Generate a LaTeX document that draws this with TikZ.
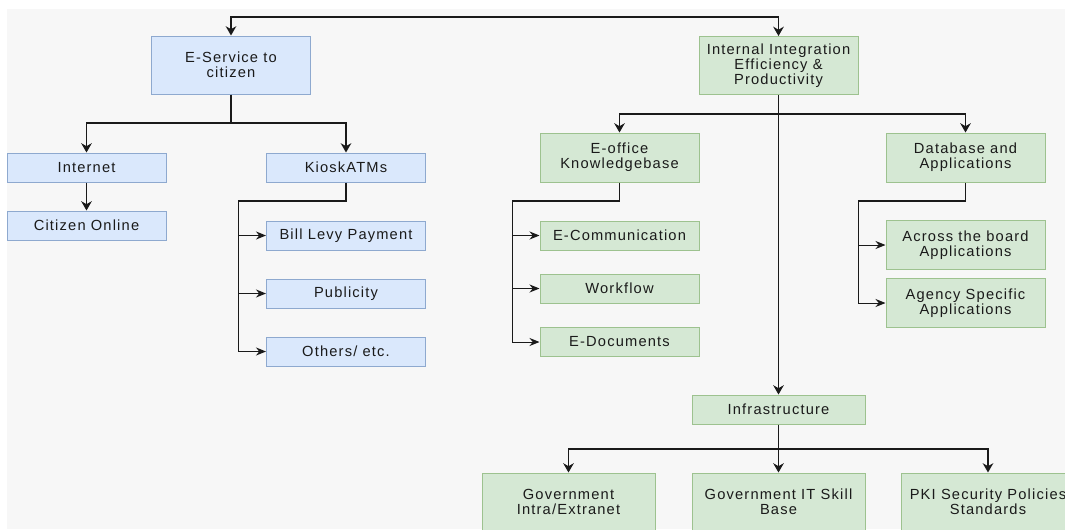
\documentclass[tikz,border=0pt]{standalone}
\usepackage{fontspec}
\setmainfont[LetterSpace=8]{Liberation Sans}
\usetikzlibrary{arrows.meta}
\definecolor{citizen}{HTML}{DAE8FC}
\definecolor{citizenline}{HTML}{8EA9CF}
\definecolor{internal}{HTML}{D5E8D4}
\definecolor{internalline}{HTML}{9DC28F}
\definecolor{backdrop}{HTML}{F7F7F7}
\definecolor{ink}{HTML}{1A1A1A}
\tikzset{
  box/.style={rectangle,draw,line width=0.75pt,text=ink,align=center,inner sep=0pt,
    font=\fontsize{11}{11.2}\selectfont},
  citizen/.style={box,fill=citizen,draw=citizenline},
  internal/.style={box,fill=internal,draw=internalline},
  slim/.style={minimum width=119.25pt,minimum height=21.75pt},
  block/.style={minimum width=119.25pt,minimum height=36.75pt},
  head/.style={minimum width=119.25pt,minimum height=43.5pt},
  base/.style={minimum width=129.75pt,minimum height=21.75pt},
  foot/.style={minimum width=129.75pt,minimum height=43.5pt},
  link/.style={->,line width=1pt,draw=ink},
  side/.style={-{Stealth[length=7.5pt,width=6pt]},line width=0.75pt,draw=ink},
  bare/.style={line width=1pt,draw=ink},
}

\begin{document}
\begin{tikzpicture}[
      x=0.75pt,y=-0.75pt,
      >={Stealth[length=7pt,width=8pt]},
      ]
  \useasboundingbox (0,0) rectangle (1065,529);
  \fill[white] (0,0) rectangle (1065,529);
  \fill[backdrop] (7,9) rectangle (1065,529);

  \node[citizen,head] (es) at (231,65) {E-Service to\\citizen};
  \node[citizen,slim] (inet) at (86.5,167.5) {Internet};
  \node[citizen,slim] (cit) at (86.5,225.5) {Citizen Online};
  \node[citizen,slim] (kiosk) at (346,167.5) {KioskATMs};
  \node[citizen,slim] (bill) at (346,235.5) {Bill Levy Payment};
  \node[citizen,slim] (pub) at (346,293.5) {Publicity};
  \node[citizen,slim] (oth) at (346,351.5) {Others/ etc.};

  \node[internal,head] (ii) at (778.5,65.5) {Internal Integration\\Efficiency \&\\Productivity};
  \node[internal,block] (eoff) at (619.5,157.5) {E-office\\Knowledgebase};
  \node[internal,block] (db) at (965.5,157.5) {Database and\\Applications};
  \node[internal,slim] (ecom) at (619.5,235.5) {E-Communication};
  \node[internal,slim] (wf) at (619.5,288.5) {Workflow};
  \node[internal,slim] (edoc) at (619.5,342) {E-Documents};
  \node[internal,block] (atb) at (965.5,245) {Across the board\\Applications};
  \node[internal,block] (ag) at (965.5,303) {Agency Specific\\Applications};
  \node[internal,base] (infra) at (778.5,409.5) {Infrastructure};
  \node[internal,foot] (gi) at (568.5,502) {Government\\Intra/Extranet};
  \node[internal,foot] (git) at (778.5,502) {Government IT Skill\\Base};
  \node[internal,foot] (pki) at (988,502) {PKI Security Policies\\Standards};

  \coordinate (top) at (500,17);
  \coordinate (esj) at (231,123);
  \coordinate (kj) at (238,201);
  \coordinate (iij) at (778.5,114);
  \coordinate (ej) at (512,201);
  \coordinate (dj) at (858,201);
  \coordinate (fj) at (778.5,449);

  \draw[link,<->] (es) |- (top) -| (ii);

  \draw[bare] (es) -- (esj);
  \draw[link] (esj) -| (inet);
  \draw[link] (esj) -| (kiosk);
  \draw[link] (inet) -- (cit);
  \draw[bare] (kiosk) |- (kj);
  \draw[side] (kj) |- (bill);
  \draw[side] (kj) |- (pub);
  \draw[side] (kj) |- (oth);

  \draw[link] (ii) -- (infra);
  \draw[link] (iij) -| (eoff);
  \draw[link] (iij) -| (db);
  \draw[bare] (eoff) |- (ej);
  \draw[side] (ej) |- (ecom);
  \draw[side] (ej) |- (wf);
  \draw[side] (ej) |- (edoc);
  \draw[bare] (db) |- (dj);
  \draw[side] (dj) |- (atb);
  \draw[side] (dj) |- (ag);

  \draw[link] (infra) -- (git);
  \draw[bare] (infra) -- (fj);
  \draw[link] (fj) -| (gi);
  \draw[link] (fj) -| (pki);
\end{tikzpicture}
\end{document}
